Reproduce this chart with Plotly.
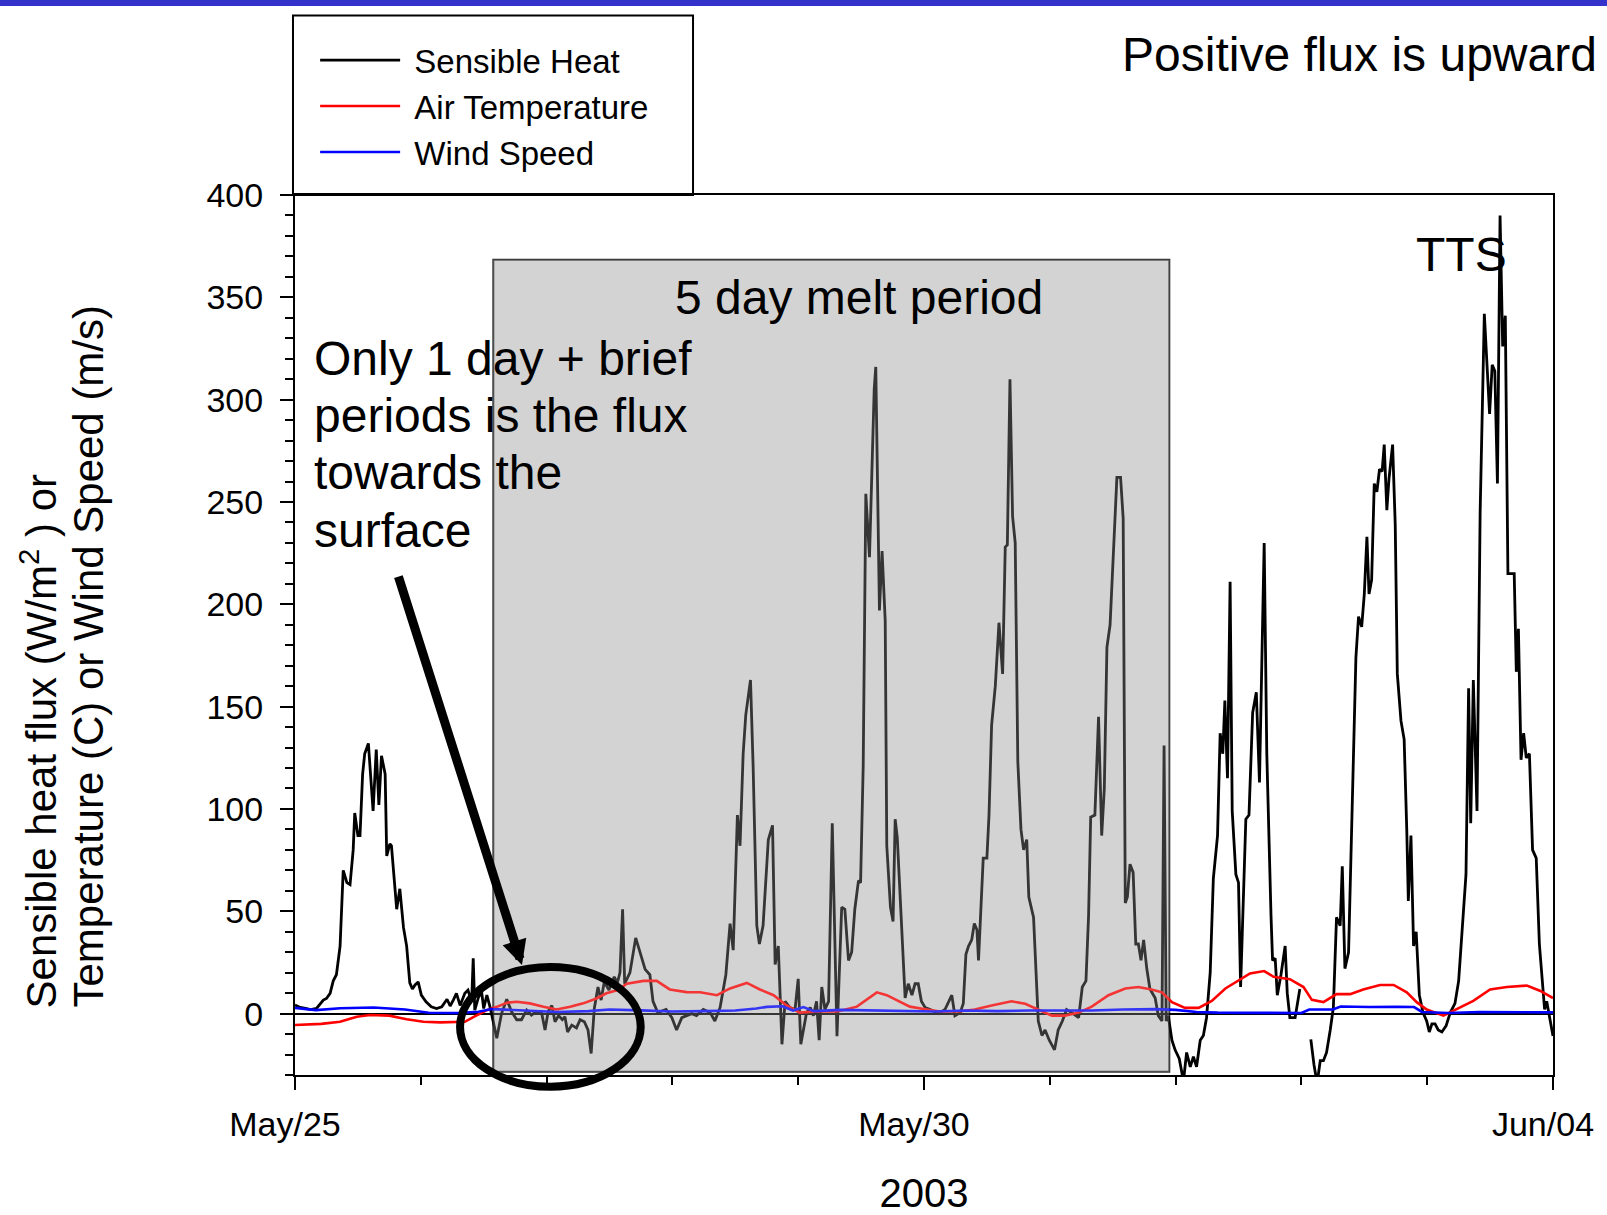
import pandas as pd
import plotly.graph_objects as go

# ---------------- data (hours after 2003-05-25 00:00, value) ----------------
START = pd.Timestamp("2003-05-25 00:00")
END = pd.Timestamp("2003-06-04 00:00")

sensible_heat = [
    (0, 4.2), (1, 3), (2, 2.5), (3, 2), (4.1, 2.5), (5.4, 6.6), (6, 7.4), (6.7, 9.9), (7.3, 16), (7.9, 19),
    (8.6, 33), (9.2, 70), (9.9, 64), (10.5, 63), (11.1, 80), (11.4, 98), (12, 87), (12.4, 87), (12.9, 117),
    (13.3, 127), (14, 132), (14.9, 99), (15.5, 129), (16, 102), (16.5, 126), (17.2, 117), (17.5, 77),
    (18.1, 83), (18.4, 82), (19.4, 51), (20, 61), (20.7, 42), (21.3, 33), (21.9, 15), (22.4, 12), (22.9, 14),
    (23.5, 15.5), (24.1, 9), (25, 5.8), (26, 3.3), (27, 2.5), (28, 3.3), (29, 7), (29.6, 3.7), (30.2, 6.6),
    (30.8, 9.9), (31.5, 4), (32.4, 9.9), (33, 11.5), (33.7, 5.8), (34, 27), (34.3, 1.7), (35, 8), (35.6, 10.7),
    (36, 2.5), (36.6, 9), (37.2, 3.3), (37.9, -4.8), (38.5, -12), (39.4, 0), (40.4, 7), (41.3, 1), (42.3, -3),
    (43.2, -3), (44.2, 1.7), (45.1, -0.7), (46, 1), (47, 1), (47.7, -8), (48.3, 1), (49, 4), (49.6, -4),
    (50.3, -1), (51, -3), (51.5, -1.5), (52, -9), (52.8, -5.6), (53.7, -7), (54.4, -3), (55.2, -4), (55.9, -8),
    (56.5, -19.5), (57.1, 2.5), (57.8, 13), (58.4, 6.6), (59, 15.5), (59.9, 11.5), (60.9, 18), (61.5, 15),
    (62, 20), (62.5, 51), (62.9, 14.6), (63.9, 20), (65, 37), (65.8, 30), (66.8, 21.6), (67.7, 19), (68.3, 6),
    (69.2, 0.5), (70.8, 2), (71.9, -2), (72.8, -8), (73.8, -2), (74.7, -1), (75.7, 0), (76.6, -1), (77.9, 2),
    (79.2, 0.5), (80.1, -3.6), (81.1, 3), (82.2, 19), (83, 44), (83.6, 31), (84.4, 97), (84.9, 82), (85.5, 127),
    (86, 146), (86.9, 163), (87.4, 121), (88.1, 43), (88.6, 34), (89.3, 43), (90.3, 85), (91.1, 92), (91.6, 24),
    (92.2, 33), (92.9, -15), (93.5, 6), (94.4, 3), (95.4, 2), (96, 17), (96.5, -15), (97.6, 0.5), (98.3, 3),
    (98.9, -1), (99.5, 6), (100, -13), (100.5, 13), (101.1, 2), (101.8, 6), (102.5, 93), (103.4, -11),
    (104.3, 52), (104.9, 51), (105.6, 26), (106.2, 30), (106.8, 51), (107.5, 65), (107.9, 64), (108.4, 121),
    (108.9, 254), (109.6, 223), (110.5, 305), (110.8, 316), (111.2, 250), (111.5, 197), (112, 226),
    (112.6, 192), (112.9, 82), (113.6, 52), (114.1, 45), (114.5, 95), (114.9, 86), (115.8, 40), (116.4, 7.6),
    (117, 14.6), (117.7, 9), (118.3, 14.6), (118.9, 14.6), (119.5, 6), (120.2, 3), (121.2, 2), (122.7, 0),
    (124, 2), (125.3, 9), (125.9, -1), (126.9, 0.5), (127.5, 5), (128, 29), (128.5, 33), (129.1, 36),
    (129.6, 44), (130.1, 41), (130.4, 26), (131.3, 76), (132, 76), (132.4, 97), (132.9, 141), (133.6, 160),
    (134.3, 191), (135, 166), (135.5, 228), (135.9, 229), (136.4, 310), (136.9, 243), (137.4, 230),
    (137.9, 123), (138.5, 90), (139, 80), (139.6, 85), (140, 57), (140.9, 47), (141.4, 19), (141.8, -3.6),
    (142.5, -10.7), (143.1, -8), (143.9, -13), (144.9, -17.7), (145.6, -8), (146.4, -3.6), (147.2, 2),
    (148.2, 0.5), (149.5, -2), (150.2, 13), (150.9, 16), (151.4, 48), (151.8, 96), (152.6, 97), (153.3, 145),
    (153.9, 87), (154.4, 110), (154.9, 179), (155.5, 190), (156.1, 222), (156.8, 262), (157.5, 262),
    (158, 242), (158.4, 54), (158.8, 57), (159.3, 73), (159.9, 69), (160.4, 34), (160.9, 34), (161.4, 26),
    (161.9, 36), (162.5, 22), (163.1, 12), (164.1, 7.6), (164.7, -1), (165.4, -3.6), (165.8, 131),
    (166.2, -3.6), (166.6, -1), (167.3, -13), (167.9, -17.7), (168.7, -22), (169.5, -33), (170.1, -19),
    (170.8, -26), (171.4, -21), (172, -26), (172.7, -13), (173.3, -10.7), (173.9, -2), (174.6, 20),
    (175.2, 66), (176, 87), (176.5, 137), (177, 127), (177.4, 153), (177.9, 115), (178.4, 211), (178.8, 99),
    (179.5, 68), (180, 64), (180.4, 13), (181, 57), (181.4, 95), (182, 97), (182.7, 147), (183.4, 157),
    (184, 113), (184.9, 230), (185.4, 127), (186.2, 48), (186.5, 26), (187, 27), (187.4, 9), (188.1, 19),
    (188.9, 33), (189.3, 10), (189.8, -2), (190.8, -2), (191.7, 12), (192.9, None), (193.8, -12.6),
    (194.4, -25), (195, -34), (195.6, -23), (196.2, -23), (196.8, -19), (197.5, -8), (198.1, 3), (198.7, 47),
    (199.4, 43), (199.8, 72), (200.3, 22), (201, 30), (201.9, 118), (202.4, 174), (202.9, 194), (203.5, 189),
    (204, 205), (204.5, 233), (204.9, 205), (205.4, 212), (205.9, 259), (206.4, 255), (206.9, 266),
    (207.4, 265), (207.8, 278), (208.3, 246), (208.7, 261), (209.4, 278), (209.9, 239), (210.3, 166),
    (211, 143), (211.6, 134), (212.1, 90), (212.4, 55), (212.9, 87), (213.4, 33), (213.9, 40), (214.5, 9),
    (215.2, 0.5), (215.9, -3.6), (216.4, -9), (216.9, -5), (217.5, -5), (218.1, -8), (218.8, -9), (219.6, -6),
    (220.4, 0.5), (221.3, 5), (222, 16), (222.6, 40), (223.4, 68), (223.9, 159), (224.3, 93), (224.8, 163),
    (225.5, 99), (226.1, 245), (226.9, 342), (227.9, 293), (228.4, 317), (228.9, 314), (229.4, 259),
    (229.9, 390), (230.4, 326), (230.9, 341), (231.4, 215), (232.2, 215), (232.6, 215), (233, 167),
    (233.4, 188), (233.9, 124), (234.4, 137), (234.9, 125), (235.5, 127), (236.1, 80), (236.8, 76),
    (237.4, 34), (238, 12), (238.4, 2), (238.8, 6), (239.3, -2), (240, -11),
]

air_temperature = [
    (0, -5.6), (5, -5), (8.6, -4), (11.8, -1.5), (14.3, -0.7), (18, -1), (21.3, -2.8), (24.5, -4), (27.7, -4.3),
    (30.5, -4.3), (32.4, -4), (34.2, -1.5), (36.6, 1.7), (38.5, 3.3), (40.4, 5.3), (42.3, 5.8), (44.8, 5),
    (47.4, 3.3), (49.9, 2), (52.5, 3.3), (55, 5), (57.5, 7.4), (59.4, 9.9), (61.6, 11.5), (63.3, 14.6),
    (66.5, 16), (69, 16), (71.5, 11.8), (74.7, 10.5), (77.3, 10.4), (80.5, 9), (83, 12.3), (86.2, 15),
    (88.7, 11.8), (91.3, 9), (93.8, 4), (96.3, 0.5), (99.5, 1), (103.4, 1), (107.2, 3.4), (111, 10.4),
    (112.9, 9), (114.8, 6.7), (117.3, 3.4), (120.5, 2), (123.1, 1), (126.6, 1), (129.7, 2), (132.9, 4),
    (136.7, 6), (139.3, 4.8), (141.8, 2), (144.4, -1), (146.9, -1), (149.5, 0.5), (152, 3.4), (155.2, 9),
    (158.4, 12.3), (160.9, 13), (163.4, 11.8), (165.4, 10.4), (167.3, 5.6), (169.8, 2.8), (172.4, 2.8),
    (174.9, 6.2), (177.5, 12.3), (180, 16), (182.2, 19.6), (184.9, 20.8), (186.7, 18), (189.8, 16.8),
    (192.4, 13), (194, 6.7), (196.2, 5.6), (198.7, 9.5), (201.3, 9.5), (203.8, 11.8), (207, 14), (209.6, 14),
    (212.1, 10.4), (214, 5.6), (215.9, 2), (219.1, -1), (221.6, 2), (224.8, 6.2), (228, 11.8), (231.2, 13),
    (235, 13.7), (237.5, 11.2), (240, 7.6),
]

wind_speed = [
    (0, 2.8), (4, 1.7), (8.6, 2.6), (15, 3), (21, 2), (25.5, 0.4), (31, 0.3), (35, 0.9), (37.5, 2.2), (44, 1.4),
    (50, 0.8), (56, 1.2), (60, 2), (66, 1.6), (72, 1), (78, 1.2), (84, 1.5), (88, 2.5), (90, 3.3), (93, 3.6),
    (95, 1.5), (97, 3.2), (99, 1.2), (104, 1.8), (110, 1.6), (116, 1.2), (122, 1), (128, 1.5), (134, 1.2),
    (140, 1.5), (146, 1.4), (152, 1.5), (158, 2), (164, 2.2), (168, 1.8), (172, 0.8), (176, 0.5), (182, 0.3),
    (188, 0.2), (192, 0.3), (193.5, 2), (198, 2), (199.5, 3.5), (205, 3.2), (210, 3.3), (213.5, 3.2),
    (215, 0.8), (220, 0.3), (226, 0.8), (232, 0.6), (236, 0.8), (240, 0.6),
]

tick_dates = ["2003-05-25", "2003-05-30", "2003-06-04"]
tick_labels = ["May/25", "May/30", "Jun/04"]

MELT_START = "2003-05-26 13:50"
MELT_END = "2003-05-31 22:48"

FONT = "Liberation Sans, Arial, Helvetica, sans-serif"
NBSP = "\u00a0"


def split(series):
    t = [START + pd.Timedelta(hours=h) for h, _ in series]
    v = [val for _, val in series]
    return t, v


fig = go.Figure()
for name, series, color, w in [
    ("Sensible Heat", sensible_heat, "black", 2.8),
    ("Air Temperature", air_temperature, "#ff0000", 2.6),
    ("Wind Speed", wind_speed, "#0000ff", 2.6),
]:
    t, v = split(series)
    fig.add_trace(go.Scatter(x=t, y=v, mode="lines", name=NBSP + name,
                             line=dict(color=color, width=w), connectgaps=False))

shapes = [
    # top blue band
    dict(type="rect", xref="paper", yref="paper", x0=-0.25, x1=1.06, y0=1.2148, y1=1.23,
         fillcolor="#3333cc", line=dict(width=0), layer="above"),
    # melt period box (below data)
    dict(type="rect", xref="x", yref="y", x0=MELT_START, x1=MELT_END, y0=-28.4, y1=368.4,
         fillcolor="#d3d3d3", line=dict(color="#333333", width=2), layer="below"),
    # translucent overlay to dim lines inside box
    dict(type="rect", xref="x", yref="y", x0=MELT_START, x1=MELT_END, y0=-28.4, y1=368.4,
         fillcolor="rgba(211,211,211,0.25)", line=dict(width=0), layer="above"),
    # legend box
    dict(type="rect", xref="paper", yref="paper", x0=-0.0016, x1=0.3164, y0=1.0, y1=1.204,
         line=dict(color="black", width=2), fillcolor="rgba(0,0,0,0)", layer="above"),
    # ellipse
    dict(type="circle", xref="paper", yref="paper", x0=0.1312, x1=0.2748, y0=-0.0133, y1=0.1227,
         line=dict(color="black", width=8), layer="above"),
]

annotations = [
    dict(text="Positive flux is upward", xref="paper", yref="paper", x=1.0366, y=1.1602,
         xanchor="right", yanchor="middle", showarrow=False, font=dict(size=48)),
    dict(text="5 day melt period", xref="paper", yref="paper", x=0.4487, y=0.884,
         xanchor="center", yanchor="middle", showarrow=False, font=dict(size=48)),
    dict(text="TTS", xref="paper", yref="paper", x=0.9273, y=0.9328,
         xanchor="center", yanchor="middle", showarrow=False, font=dict(size=48)),
    dict(text="", x=START + pd.Timedelta(hours=43.3), y=23.7, xref="x", yref="y",
         showarrow=True, ax=-124, ay=-390, arrowhead=2, arrowsize=0.55, arrowwidth=9,
         arrowcolor="black"),
]
for txt, ypx in [("Only 1 day + brief", 358), ("periods is the flux", 415),
                 ("towards the", 472.5), ("surface", 530)]:
    annotations.append(dict(text=txt, xref="paper", yref="paper", x=0.0135,
                            y=(1075 - ypx) / 880, xanchor="left", yanchor="middle",
                            showarrow=False, font=dict(size=48)))
# y-axis title lines
annotations.append(dict(text="Sensible heat flux (W/m<sup>2</sup> ) or", xref="paper", yref="paper",
                        x=-0.2035, y=0.0739, xanchor="center", yanchor="bottom", textangle=-90,
                        showarrow=False, font=dict(size=42)))
annotations.append(dict(text="Temperature (C) or Wind Speed (m/s)", xref="paper", yref="paper",
                        x=-0.1645, y=0.0739, xanchor="center", yanchor="bottom", textangle=-90,
                        showarrow=False, font=dict(size=42)))

fig.update_layout(
    width=1607, height=1215,
    margin=dict(l=295, r=54, t=195, b=140),
    plot_bgcolor="white", paper_bgcolor="white",
    font=dict(family=FONT, color="black"),
    shapes=shapes, annotations=annotations,
    showlegend=True,
    legend=dict(x=0.016, y=1.185, xanchor="left", yanchor="top", font=dict(size=33),
                bgcolor="rgba(0,0,0,0)", borderwidth=0, itemwidth=80, tracegroupgap=0),
    xaxis=dict(type="date", range=[START, END], showgrid=False, zeroline=False, automargin=False,
               showline=True, linecolor="black", linewidth=2, mirror=True,
               ticks="outside", ticklen=13, tickwidth=2, tickcolor="black",
               tickvals=tick_dates, ticktext=tick_labels, tickfont=dict(size=34),
               ticklabelshift=-10, ticklabelstandoff=5,
               minor=dict(dtick=86400000, tick0="2003-05-25", ticks="outside", ticklen=8,
                          tickwidth=2, tickcolor="black", showgrid=False),
               title=dict(text="2003", font=dict(size=40), standoff=45)),
    yaxis=dict(range=[-30, 400], showgrid=False, zeroline=True, zerolinecolor="black", zerolinewidth=2,
               automargin=False,
               showline=True, linecolor="black", linewidth=2, mirror=True,
               ticks="outside", ticklen=13, tickwidth=2, tickcolor="black",
               tick0=0, dtick=50, tickfont=dict(size=34), ticklabelstandoff=10,
               minor=dict(dtick=10, tick0=0, ticks="outside", ticklen=8, tickwidth=2,
                          tickcolor="black", showgrid=False)),
)

fig.write_html("out.html")
